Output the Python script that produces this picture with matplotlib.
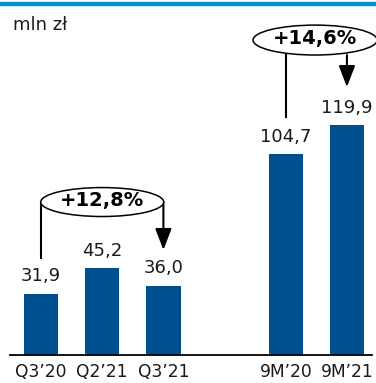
import matplotlib
matplotlib.use("Agg")
import matplotlib.pyplot as plt
from matplotlib.patches import Ellipse
from matplotlib.lines import Line2D

categories = ["Q3\u201920", "Q2\u201921", "Q3\u201921", "9M\u201920", "9M\u201921"]
positions = [0, 1, 2, 4, 5]
values = [31.9, 45.2, 36.0, 104.7, 119.9]
labels = ["31,9", "45,2", "36,0", "104,7", "119,9"]
changes = ["+12,8%", "+14,6%"]

bar_color = "#004f91"
top_color = "#0091d5"

W, H = 376, 383
fig = plt.figure(figsize=(W / 100, H / 100), dpi=100)
# axes: baseline at 355 px from top, x from 10 px to 372 px
ax = fig.add_axes([10 / W, 28 / H, 362 / W, 355 / H])
ax.set_xlim(-0.508, 5.41)
ax.set_ylim(0, 185.2)

ax.bar(positions, values, width=0.56, color=bar_color, zorder=2)
for p, v, t in zip(positions, values, labels):
    ax.text(p, v + 4.5, t, ha="center", va="bottom", fontsize=13, color="#1a1a1a")

for s in ["top", "right", "left"]:
    ax.spines[s].set_visible(False)
ax.spines["bottom"].set_linewidth(1.3)
ax.set_yticks([])
ax.set_xticks(positions)
ax.set_xticklabels(categories, fontsize=12.3, color="#1a1a1a")
ax.tick_params(axis="x", length=0, pad=6)

# quarter comparison: ellipse with connecting lines
ey = 79.8
ax.add_patch(Ellipse((1.0, ey), 2.01, 15.1, facecolor="white", edgecolor="black",
                     lw=1.1, zorder=3))
ax.text(1.0, ey + 0.8, changes[0], ha="center", va="center", fontsize=14,
        fontweight="bold", zorder=4)
ax.plot([0, 0], [values[0] + 18.7, ey], color="black", lw=1.5, zorder=2)
ax.annotate("", xy=(2, values[2] + 18.8), xytext=(2, ey),
            arrowprops=dict(arrowstyle="-|>,head_length=1.3,head_width=0.5",
                            color="black", lw=1.5, shrinkA=0, shrinkB=0), zorder=2)

# 9M comparison
ey2 = 164.3
ax.add_patch(Ellipse((4.48, ey2), 2.03, 15.6, facecolor="white", edgecolor="black",
                     lw=1.1, zorder=3, clip_on=False))
ax.text(4.48, ey2 + 0.8, changes[1], ha="center", va="center", fontsize=14,
        fontweight="bold", zorder=4)
ax.plot([4, 4], [values[3] + 19.5, ey2 - 7.8], color="black", lw=1.5, zorder=2)
ax.annotate("", xy=(5, values[4] + 19.9), xytext=(5, ey2 - 7.8),
            arrowprops=dict(arrowstyle="-|>,head_length=1.3,head_width=0.5",
                            color="black", lw=1.5, shrinkA=0, shrinkB=0), zorder=2)

fig.add_artist(Line2D([0, 1], [1 - 3.5 / H, 1 - 3.5 / H], transform=fig.transFigure,
                      color=top_color, lw=3.2))
fig.text(13 / W, 1 - 25 / H, "mln z\u0142", ha="left", va="center", fontsize=13,
         color="#1a1a1a")

fig.savefig("out.png", dpi=100)
